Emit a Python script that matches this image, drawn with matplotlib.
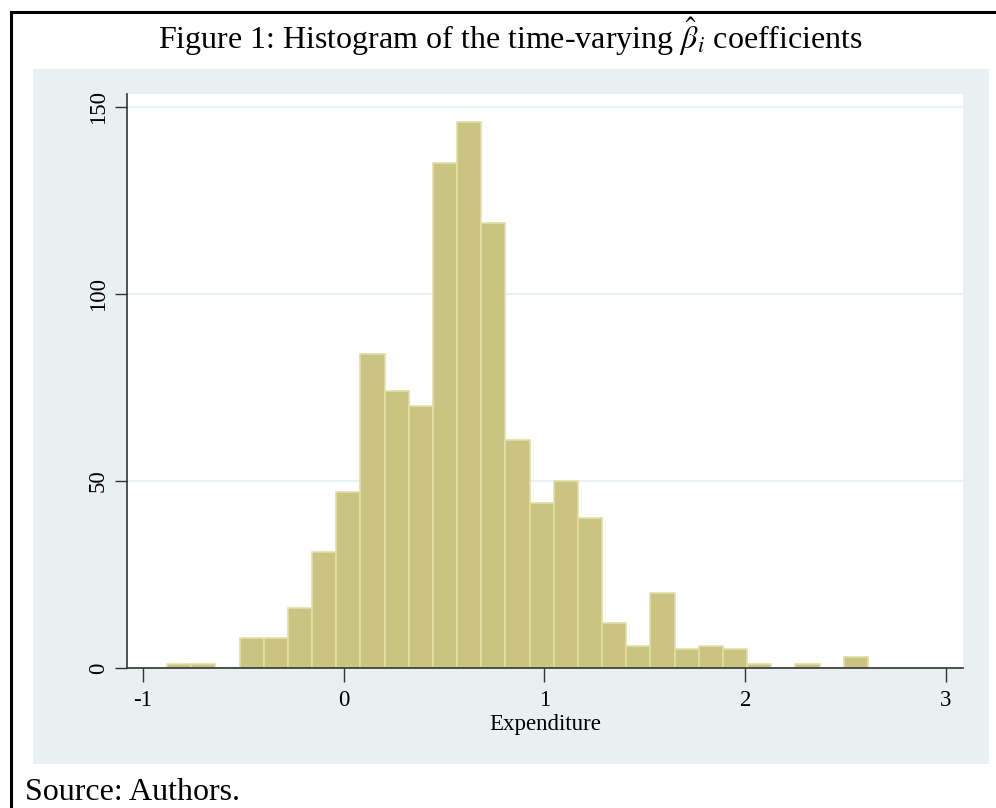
import numpy as np
import matplotlib.pyplot as plt
from matplotlib.patches import Rectangle
from matplotlib.lines import Line2D

plt.rcParams['font.family'] = ['Liberation Serif', 'DejaVu Serif']
plt.rcParams['mathtext.fontset'] = 'stix'

# histogram of the beta coefficients
bin_start = -0.8806
bin_width = 0.1204
counts = [1, 1, 0, 8, 8, 16, 31, 47, 84, 74, 70, 135, 146, 119, 61,
          44, 50, 40, 12, 6, 20, 5, 6, 5, 1, 0, 1, 0, 3]
x_ticks = [-1, 0, 1, 2, 3]
y_ticks = [0, 50, 100, 150]

W, H = 996, 808
fig = plt.figure(figsize=(W / 100, H / 100), dpi=100)

# grey panel behind the plot
fig.patches.append(Rectangle((33 / W, 1 - 764 / H), 956 / W, 695 / H,
                             transform=fig.transFigure, facecolor="#e8f0f2",
                             edgecolor="none", zorder=-5))
# frame lines round the figure
fig.lines.append(Line2D([11 / W, 1], [1 - 12 / H, 1 - 12 / H],
                        transform=fig.transFigure, color="black", lw=2.2))
fig.lines.append(Line2D([11 / W, 11 / W], [0, 1 - 12 / H],
                        transform=fig.transFigure, color="black", lw=2.2))

ax = fig.add_axes([127 / W, 1 - 668 / H, 836 / W, 574 / H])
ax.set_zorder(2)
ax.set_facecolor("white")

lefts = bin_start + bin_width * np.arange(len(counts))
ax.bar(lefts, counts, width=bin_width, align="edge", color="#cbc382",
       edgecolor="#e2dea6", linewidth=1.2, zorder=3)

ax.set_xlim(-1.08, 3.085)
ax.set_ylim(0, 153.5)
ax.set_xticks(x_ticks)
ax.set_xticklabels([str(v) for v in x_ticks], fontsize=16.5)
ax.set_yticks(y_ticks)
ax.set_yticklabels([str(v) for v in y_ticks], fontsize=16.5, rotation=90, va="center")
ax.tick_params(axis="x", length=10, width=1, color="#333333", pad=6)
ax.tick_params(axis="y", length=9, width=1, color="#333333", pad=4)
ax.grid(axis="y", color="#e8f0f2", linewidth=1.5, zorder=1)
ax.set_axisbelow(True)
for side in ["top", "right"]:
    ax.spines[side].set_visible(False)
for side in ["left", "bottom"]:
    ax.spines[side].set_color("#333333")
    ax.spines[side].set_linewidth(1.2)
    ax.spines[side].set_zorder(4)

ax.set_xlabel("Expenditure", fontsize=16.5, labelpad=2)

fig.text(510 / W, 1 - 37 / H,
         r"Figure 1: Histogram of the time-varying $\hat{\beta}_i$ coefficients",
         ha="center", va="center", fontsize=23)
fig.text(25 / W, 1 - 793 / H, "Source: Authors.", ha="left", va="center",
         fontsize=23)

fig.savefig("out.png", dpi=100)
